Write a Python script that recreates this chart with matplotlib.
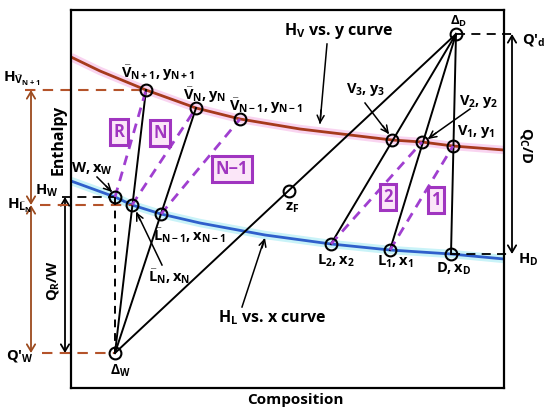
import numpy as np
import matplotlib.pyplot as plt
from matplotlib.patches import FancyArrowPatch

plt.rcParams['font.family'] = ['Open Sans', 'DejaVu Sans']
plt.rcParams['font.weight'] = 'bold'
plt.rcParams['mathtext.fontset'] = 'custom'
plt.rcParams['mathtext.rm'] = 'Open Sans:bold'
plt.rcParams['mathtext.it'] = 'Open Sans:bold'
plt.rcParams['mathtext.bf'] = 'Open Sans:bold'
plt.rcParams['mathtext.default'] = 'rm'

# chart units: composition to the right, enthalpy upward (axis drawn inverted)
vap_x = [71, 100, 146, 196, 240, 300, 392, 422, 453, 504]
vap_h = [57, 71, 90, 108, 119, 129, 140, 142, 146, 150]
liq_x = [71, 115, 132, 161, 200, 265, 331, 390, 451, 504]
liq_h = [181, 197, 205, 214, 223, 235, 244, 250, 254, 259]

# named points
V = {'N+1': (146, 90), 'N': (196, 108), 'N-1': (240, 119),
     '3': (392, 140), '2': (422, 142), '1': (453, 146)}
L = {'W': (115, 197), 'N': (132, 205), 'N-1': (161, 214),
     '2': (331, 244), '1': (390, 250), 'D': (451, 254)}
delta_d = (456, 34)
delta_w = (115, 353)
z_f = (289, 191)

# stage tie lines (liquid, vapor, label)
ties = [('W', 'N+1', 'R'), ('N', 'N', 'N'), ('N-1', 'N-1', 'N\u22121'),
        ('2', '2', '2'), ('1', '1', '1')]
tie_label_pos = [(119, 132), (160, 133), (232, 169), (388, 197), (436, 200)]

BROWN = '#A63A1C'
BLUE = '#2F5FCB'
PURPLE = '#A03FD0'
BOXC = '#A035C0'
DBROWN = '#B4532A'

fig = plt.figure(figsize=(5.5, 4.16), dpi=100)
ax = fig.add_axes([71 / 550, 28 / 416, 433 / 550, 378 / 416])
ax.set_xlim(71, 504)
ax.set_ylim(388, 10)
ax.set_xticks([])
ax.set_yticks([])
for s in ax.spines.values():
    s.set_linewidth(1.6)

# curves with soft glow
ax.plot(vap_x, vap_h, color='#F9D4F0', lw=6, zorder=1, solid_capstyle='butt')
ax.plot(vap_x, vap_h, color=BROWN, lw=2, zorder=2)
ax.plot(liq_x, liq_h, color='#C9F3F8', lw=6, zorder=1, solid_capstyle='butt')
ax.plot(liq_x, liq_h, color=BLUE, lw=2, zorder=2)

# operating lines from delta points
for p in [L['2'], L['1'], L['D'], delta_w]:
    ax.plot([delta_d[0], p[0]], [delta_d[1], p[1]], color='k', lw=1.4, zorder=3)
for p in [V['N+1'], V['N']]:
    ax.plot([delta_w[0], p[0]], [delta_w[1], p[1]], color='k', lw=1.4, zorder=3)
ax.plot([L['W'][0], delta_w[0]], [L['W'][1], delta_w[1]], color='k', lw=1.4,
        ls=(0, (4, 3)), zorder=3)

# tie lines
for (lk, vk, lab), (tx, ty) in zip(ties, tie_label_pos):
    ax.plot([L[lk][0], V[vk][0]], [L[lk][1], V[vk][1]], color=PURPLE, lw=2,
            ls=(0, (3.5, 2.5)), zorder=3)
    ax.text(tx, ty, lab, color=BOXC, fontsize=12, ha='center', va='center',
            zorder=5, bbox=dict(boxstyle='square,pad=0.22', fc='#FBE6F8',
                                ec=BOXC, lw=2.2))

# circles
pts = list(V.values()) + list(L.values()) + [delta_d, delta_w, z_f]
ax.plot([p[0] for p in pts], [p[1] for p in pts], 'o', ms=8.5, mfc='none',
        mec='k', mew=1.5, zorder=6, clip_on=False)

# dashed guides
ax.plot([25, V['N+1'][0]], [V['N+1'][1]] * 2, color=DBROWN, lw=1.5,
        ls=(0, (5, 3.5)), clip_on=False, zorder=2)
ax.plot([40, L['N'][0]], [L['N'][1]] * 2, color=DBROWN, lw=1.5,
        ls=(0, (5, 3.5)), clip_on=False, zorder=2)
ax.plot([42, delta_w[0]], [delta_w[1]] * 2, color=DBROWN, lw=1.5,
        ls=(0, (5, 3.5)), clip_on=False, zorder=2)
ax.plot([62, L['W'][0]], [L['W'][1]] * 2, color='k', lw=1.3,
        ls=(0, (5, 3.5)), clip_on=False, zorder=2)
ax.plot([delta_d[0], 512], [delta_d[1]] * 2, color='k', lw=1.3,
        ls=(0, (5, 3.5)), clip_on=False, zorder=2)
ax.plot([L['D'][0], 512], [L['D'][1]] * 2, color='k', lw=1.3,
        ls=(0, (5, 3.5)), clip_on=False, zorder=2)


def darrow(x, y0, y1, color):
    a = FancyArrowPatch((x, y0), (x, y1), arrowstyle='<->,head_length=5,head_width=3',
                        color=color, lw=1.3, clip_on=False, shrinkA=0, shrinkB=0)
    ax.add_patch(a)


darrow(31, V['N+1'][1], L['N'][1], '#9C4A1E')
darrow(31, L['N'][1], delta_w[1], '#9C4A1E')
darrow(65, L['W'][1], delta_w[1], 'k')
darrow(512, delta_d[1], L['D'][1], 'k')


def pointer(txt, xy, xytext, **kw):
    ax.annotate(txt, xy=xy, xytext=xytext, fontsize=10, ha='center', va='center',
                annotation_clip=False,
                arrowprops=dict(arrowstyle='->,head_length=0.5,head_width=0.25',
                                color='k', lw=1.1, shrinkA=0, shrinkB=0), **kw)


ax.plot([327, 320], [44, 123], color='k', lw=1.1)
pointer('', (320, 124), (321, 110))
ax.text(339, 31, r'$H_V$ vs. y curve', fontsize=11.5, ha='center', va='center')

ax.plot([365, 388], [103, 133], color='k', lw=1.1)
pointer('', (389, 134), (383, 126))
ax.text(365, 89, r'$V_3,y_3$', fontsize=10.5, ha='center', va='center')

ax.plot([470, 429], [109, 138], color='k', lw=1.1)
pointer('', (428, 139), (436, 133))
ax.text(478, 101, r'$V_2,y_2$', fontsize=10.5, ha='center', va='center')

ax.text(476, 132, r'$V_1,y_1$', fontsize=10.5, ha='center', va='center')
ax.text(459, 21, r'$\Delta_D$', fontsize=9.5, ha='center', va='center')
ax.text(522, 40, "Q'$_d$", fontsize=10.5, ha='left', va='center')
ax.text(526, 145, r'$Q_C/D$', fontsize=10.5, ha='center', va='center', rotation=-90)
ax.text(518, 260, r'$H_D$', fontsize=10.5, ha='left', va='center')
ax.text(454, 269, r'$D,x_D$', fontsize=10.5, ha='center', va='center')
ax.text(395, 262, r'$L_1,x_1$', fontsize=10.5, ha='center', va='center')
ax.text(336, 261, r'$L_2,x_2$', fontsize=10.5, ha='center', va='center')
ax.text(292, 208, r'$z_F$', fontsize=10.5, ha='center', va='center')

ax.plot([242, 264], [307, 240], color='k', lw=1.1)
pointer('', (265, 238), (262, 248))
ax.text(272, 318, r'$H_L$ vs. x curve', fontsize=11.5, ha='center', va='center')

ax.text(295, 400, 'Composition', fontsize=11, ha='center', va='center')
ax.text(120, 371, r'$\Delta_W$', fontsize=10, ha='center', va='center')
ax.text(20, 356, "Q'$_W$", fontsize=10.5, ha='center', va='center')
ax.text(53, 280, r'$Q_R/W$', fontsize=10.5, ha='center', va='center', rotation=90)
ax.text(20, 206, r'$H_{\bar{L}_N}$', fontsize=11, ha='center', va='center')
ax.text(47, 191, r'$H_W$', fontsize=10.5, ha='center', va='center')
ax.text(22, 79, r'$H_{\bar{V}_{N+1}}$', fontsize=11, ha='center', va='center')
ax.text(59, 140, 'Enthalpy', fontsize=11.5, ha='center', va='center', rotation=90)

ax.plot([97, 111], [177, 191], color='k', lw=1.1)
pointer('', (112, 192), (106, 186))
ax.text(92, 169, r'$W,x_W$', fontsize=10.5, ha='center', va='center')

ax.plot([162, 137], [265, 213], color='k', lw=1.1)
pointer('', (136, 212), (140, 220))
ax.text(169, 277, r'$\bar{L}_N,x_N$', fontsize=10.5, ha='center', va='center')
ax.text(190, 236, r'$\bar{L}_{N-1},x_{N-1}$', fontsize=10.5, ha='center', va='center')

ax.text(158, 73, r'$\bar{V}_{N+1},y_{N+1}$', fontsize=10.5, ha='center', va='center')
ax.text(205, 95, r'$\bar{V}_N,y_N$', fontsize=10.5, ha='center', va='center')
ax.text(266, 106, r'$\bar{V}_{N-1},y_{N-1}$', fontsize=10.5, ha='center', va='center')

fig.savefig('out.png', dpi=100)
